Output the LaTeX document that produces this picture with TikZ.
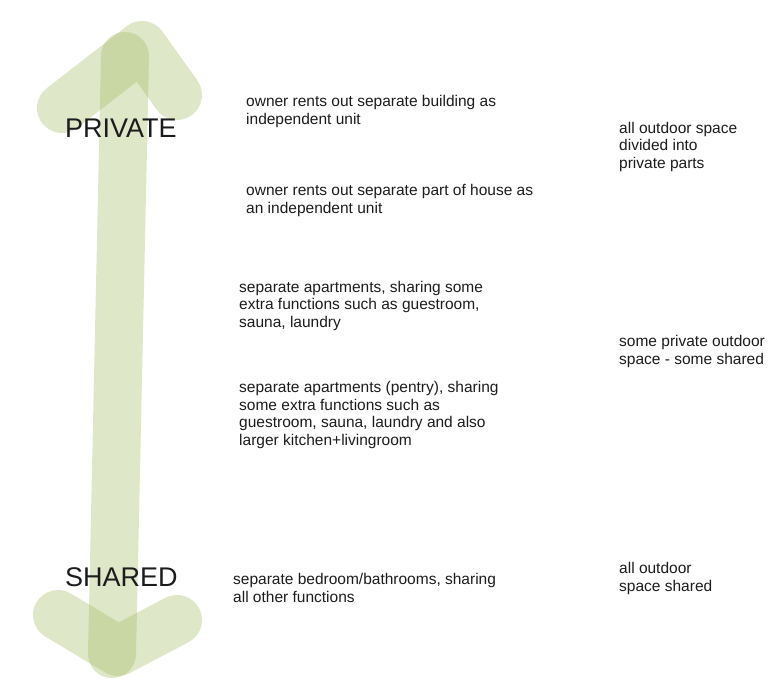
\documentclass[tikz,border=0pt]{standalone}
\usepackage{fontspec}
\setmainfont{Liberation Sans}
\definecolor{sage}{RGB}{160,185,95}
\definecolor{ink}{RGB}{28,28,28}

\begin{document}
\begin{tikzpicture}[x=1pt,y=-1pt,
    every node/.style={inner sep=0pt, text=ink, anchor=base west},
    pole/.style={sage, line width=48pt, line cap=round, line join=round, opacity=0.35},
    endlabel/.style={font=\fontsize{27}{30}\selectfont},
    option/.style={align=left, font=\fontsize{15.5}{17.5}\selectfont}]

\useasboundingbox (0,0) rectangle (779,697);

% Shaft
\coordinate (top) at (125,56);
\coordinate (bottom) at (112,654);
\draw [pole] (top) -- (bottom);

% Heads
\draw [pole, line width=50pt] (62,108) -- (142,46) -- (177,95);
\draw [pole, line width=50pt] (58,615) -- (118,651) -- (177,620);

% Ends of the scale
\node [endlabel] (private) at (65,137) {PRIVATE};
\node [endlabel] (shared) at (65,586) {SHARED};

% Ways of living (placed at baseline of last line)
\node [option] (building) at (246,124) {owner rents out separate building as\\independent unit};
\node [option] (housepart) at (246,213) {owner rents out separate part of house as\\an independent unit};
\node [option] (apartments) at (239,327) {separate apartments, sharing some\\extra functions such as guestroom,\\sauna, laundry};
\node [option] (pentry) at (239,445) {separate apartments (pentry), sharing\\some extra functions such as\\guestroom, sauna, laundry and also\\larger kitchen+livingroom};
\node [option] (bedrooms) at (233,602) {separate bedroom/bathrooms, sharing\\all other functions};

% Outdoor space
\node [option] (divided) at (619,168) {all outdoor space\\divided into\\private parts};
\node [option] (mixed) at (619,364) {some private outdoor\\space - some shared};
\node [option] (allshared) at (619,591) {all outdoor\\space shared};

\end{tikzpicture}
\end{document}
